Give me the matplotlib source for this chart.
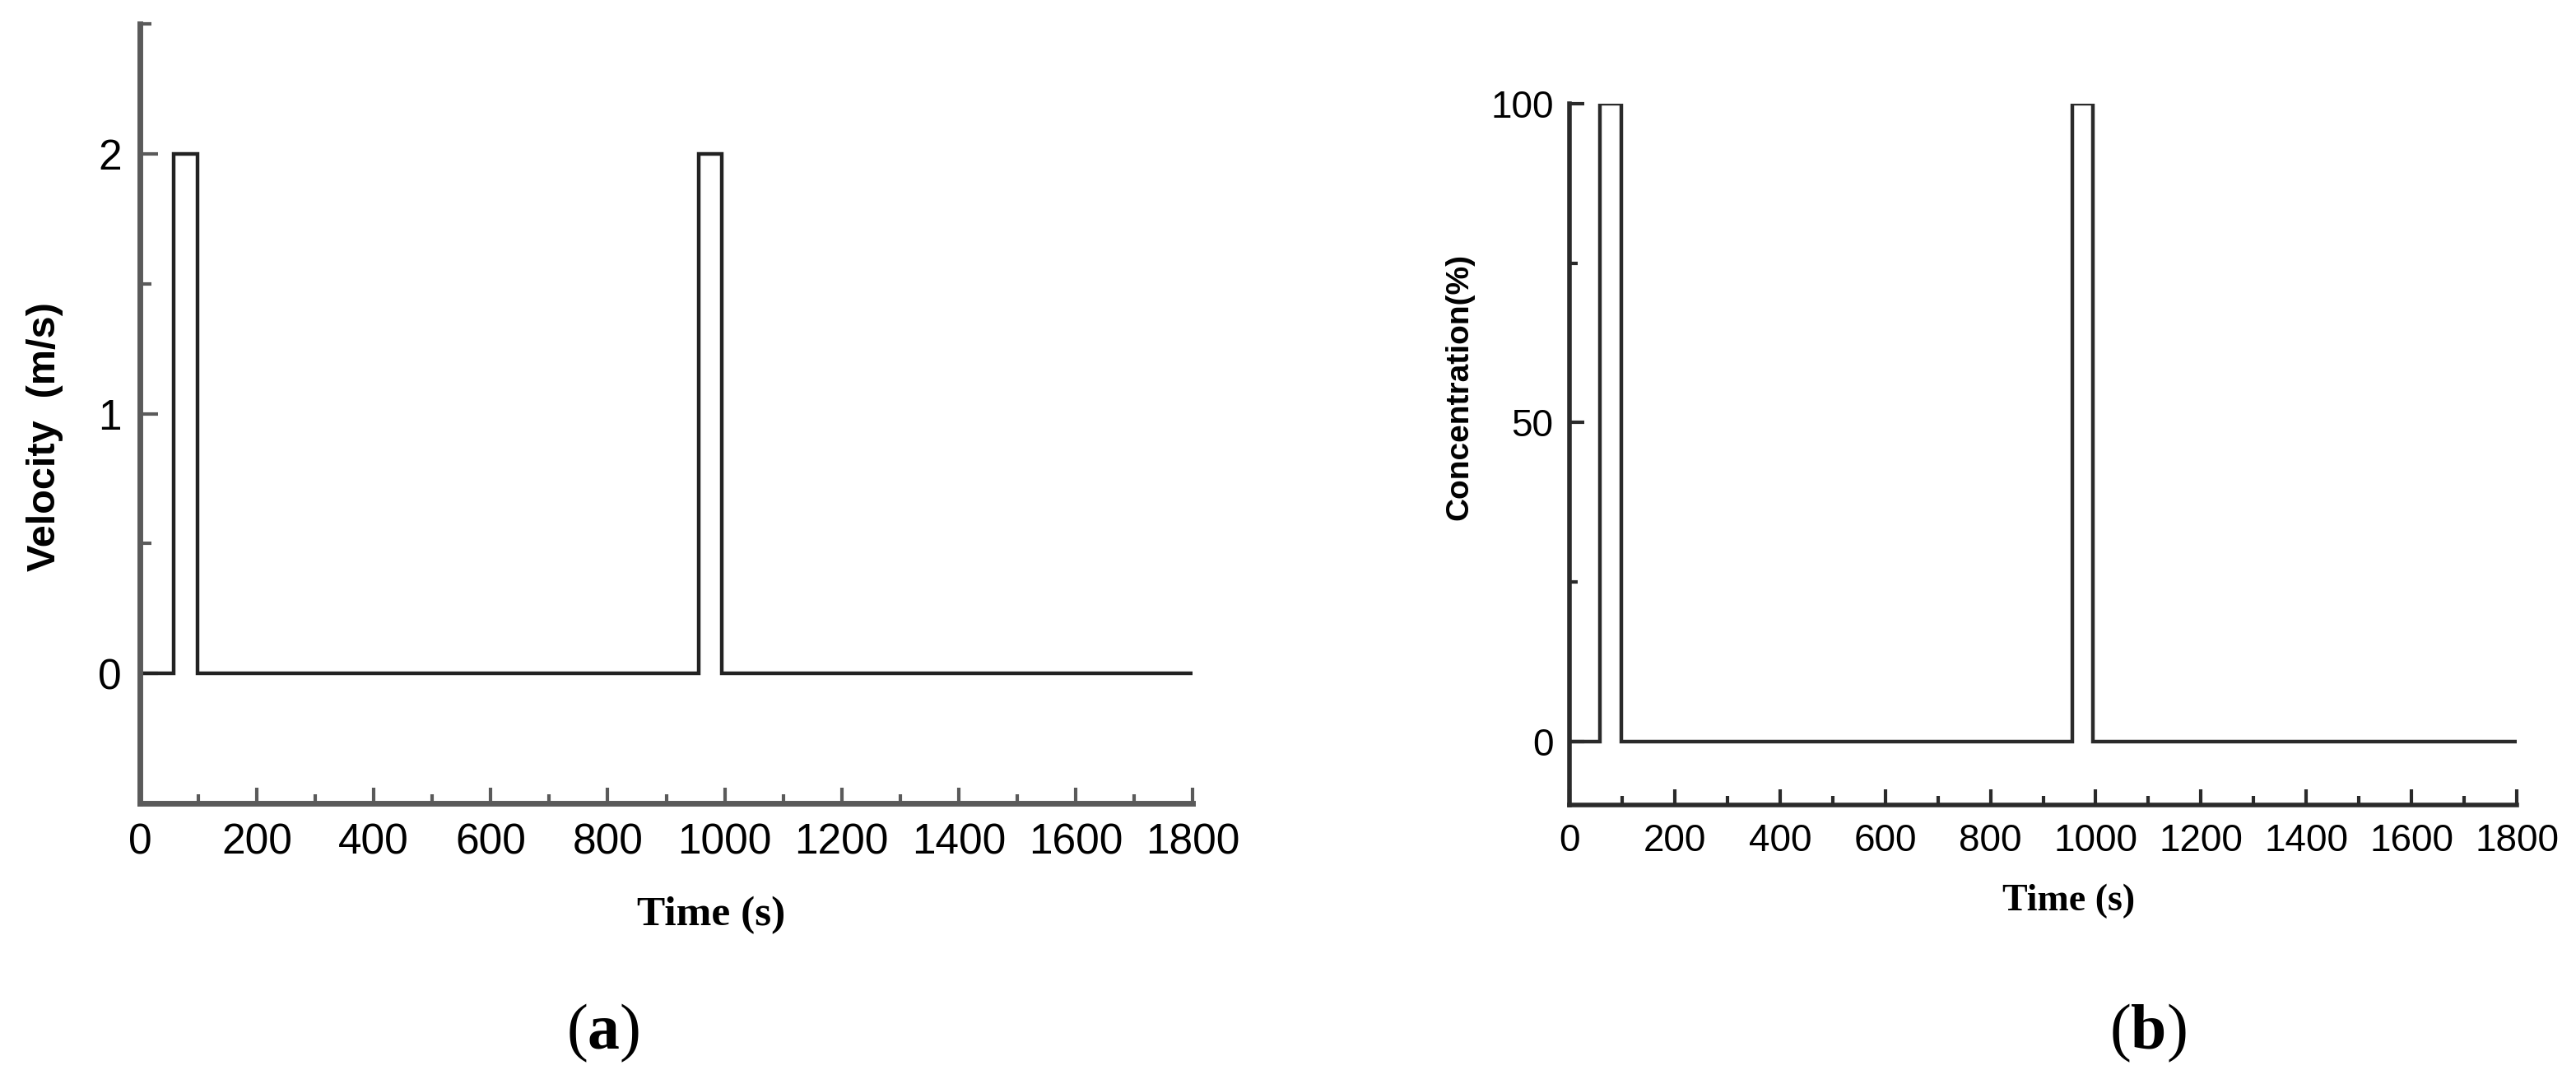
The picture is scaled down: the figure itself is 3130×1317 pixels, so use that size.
import numpy as np
import matplotlib
matplotlib.use('Agg')
import matplotlib.pyplot as plt
from matplotlib.ticker import MultipleLocator

plt.rcParams['mathtext.fontset'] = 'custom'
plt.rcParams['mathtext.bf'] = 'Liberation Serif:bold'
plt.rcParams['mathtext.rm'] = 'Liberation Serif'

# pulse series
time_s = [0, 58, 58, 98, 98, 955, 955, 995, 995, 1800]
velocity = [0, 0, 2, 2, 0, 0, 2, 2, 0, 0]
concentration = [0, 0, 100, 100, 0, 0, 100, 100, 0, 0]

x_ticks = [0, 200, 400, 600, 800, 1000, 1200, 1400, 1600, 1800]
vel_ticks = [0, 1, 2]
conc_ticks = [0, 50, 100]

W, H = 3130, 1317
fig = plt.figure(figsize=(W / 100, H / 100), dpi=100)

def style_axes(ax, spine_col, spine_w, fs, pad_x, pad_y, ymin_len, ymaj_len):
    for s in ['top', 'right']:
        ax.spines[s].set_visible(False)
    for s in ['left', 'bottom']:
        ax.spines[s].set_color(spine_col)
        ax.spines[s].set_linewidth(spine_w)
    ax.tick_params(axis='both', which='both', direction='in', color=spine_col, width=3)
    ax.tick_params(axis='x', which='major', length=14, pad=pad_x, labelsize=fs)
    ax.tick_params(axis='x', which='minor', length=8)
    ax.tick_params(axis='y', which='major', length=ymaj_len, pad=pad_y, labelsize=fs)
    ax.tick_params(axis='y', which='minor', length=ymin_len)
    for lab in ax.get_xticklabels() + ax.get_yticklabels():
        lab.set_fontfamily('Liberation Sans')

# (a) velocity
ax1 = fig.add_axes([170 / W, (H - 976) / H, 1279 / W, 947 / H])
ax1.plot(time_s, velocity, color='#222222', lw=3.2, solid_joinstyle='miter')
ax1.set_xlim(0, 1800)
ax1.set_ylim(-0.5, 2.5)
ax1.set_xticks(x_ticks)
ax1.set_yticks(vel_ticks)
ax1.xaxis.set_minor_locator(MultipleLocator(100))
ax1.yaxis.set_minor_locator(MultipleLocator(0.5))
style_axes(ax1, '#5a5a5a', 5, 37, 17, 16, 10, 16)
ax1.set_xlabel('Time (s)', family='Liberation Serif', fontweight='bold', fontsize=37, va='center')
ax1.xaxis.set_label_coords(0.543, -0.144)
ax1.set_ylabel('Velocity  (m/s)', family='Liberation Sans', fontweight='bold', fontsize=35, va='center')
ax1.yaxis.set_label_coords(-0.09, 0.47)

# (b) concentration
ax2 = fig.add_axes([1907 / W, (H - 978) / H, 1151 / W, 852 / H])
ax2.plot(time_s, concentration, color='#2a2a2a', lw=3.2, solid_joinstyle='miter')
ax2.set_xlim(0, 1800)
ax2.set_ylim(-10, 100)
ax2.set_xticks(x_ticks)
ax2.set_yticks(conc_ticks)
ax2.xaxis.set_minor_locator(MultipleLocator(100))
ax2.yaxis.set_minor_locator(MultipleLocator(25))
style_axes(ax2, '#2a2a2a', 4, 33, 16, 14, 7, 13)
ax2.set_xlabel('Time (s)', family='Liberation Serif', fontweight='bold', fontsize=33, va='center')
ax2.xaxis.set_label_coords(0.527, -0.137)
ax2.set_ylabel('Concentration(%)', family='Liberation Sans', fontweight='bold', fontsize=28, va='center')
ax2.yaxis.set_label_coords(-0.116, 0.596)

# panel letters
fig.text(733 / W, (H - 1255) / H, r'($\mathbf{a}$)', family='Liberation Serif', fontsize=56, ha='center', va='center')
fig.text(2610 / W, (H - 1255) / H, r'($\mathbf{b}$)', family='Liberation Serif', fontsize=56, ha='center', va='center')

fig.savefig('out.png', dpi=100, facecolor='white')
